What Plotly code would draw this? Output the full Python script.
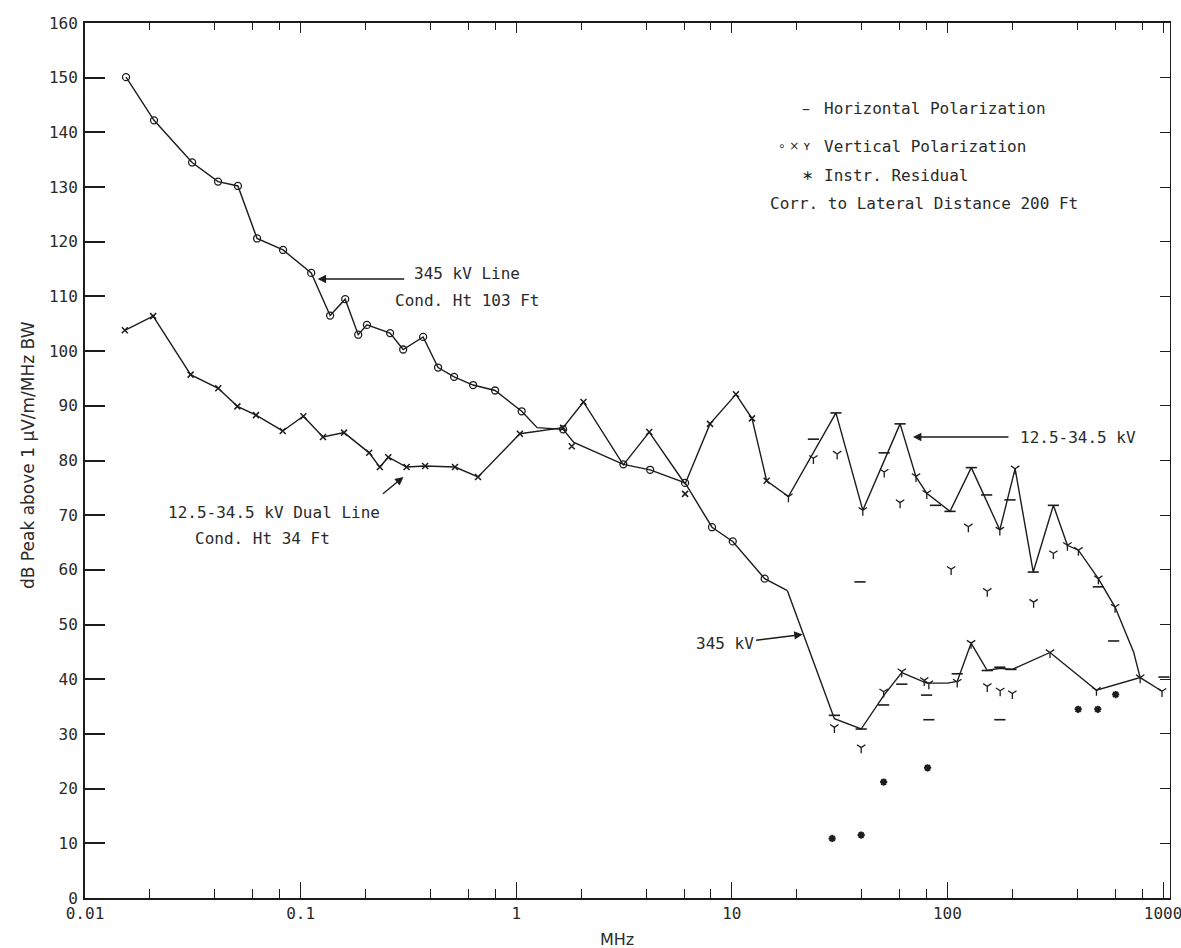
import math
import plotly.graph_objects as go

# ---------------- data ----------------
# 345 kV line, low frequency part (vertical polarization, circles)
kv345_f = [0.0155, 0.0209, 0.0314, 0.0414, 0.0512, 0.0628, 0.0829, 0.112, 0.137, 0.161,
           0.185, 0.203, 0.260, 0.299, 0.370, 0.434, 0.515, 0.631, 0.798, 1.06,
           1.25, 1.65, 1.85, 3.14, 4.18, 6.07, 8.09, 10.1, 14.2, 18.1]
kv345_v = [150.1, 142.2, 134.5, 131.0, 130.2, 120.6, 118.5, 114.3, 106.5, 109.5,
           103.0, 104.8, 103.3, 100.3, 102.6, 97.0, 95.3, 93.8, 92.8, 89.0,
           86.0, 85.7, 83.3, 79.3, 78.3, 75.9, 67.8, 65.2, 58.4, 56.2]
kv345_circ_f = [0.0155, 0.0209, 0.0314, 0.0414, 0.0512, 0.0628, 0.0829, 0.112, 0.137, 0.161,
                0.185, 0.203, 0.260, 0.299, 0.370, 0.434, 0.515, 0.631, 0.798, 1.06,
                1.65, 3.14, 4.18, 6.07, 8.09, 10.1, 14.2]
kv345_circ_v = [150.1, 142.2, 134.5, 131.0, 130.2, 120.6, 118.5, 114.3, 106.5, 109.5,
                103.0, 104.8, 103.3, 100.3, 102.6, 97.0, 95.3, 93.8, 92.8, 89.0,
                85.7, 79.3, 78.3, 75.9, 67.8, 65.2, 58.4]
# 345 kV line, high frequency part
kv345_hf_f = [18.1, 29.9, 39.8, 50.6, 61.4, 80.0, 100, 111, 128.7, 153, 175, 200, 299, 491, 783, 989]
kv345_hf_v = [56.2, 32.8, 30.9, 37.0, 41.2, 39.3, 39.3, 39.6, 46.6, 41.6, 42.0, 41.8, 44.9, 38.0, 40.3, 37.8]

# 12.5-34.5 kV dual line
kv12_f = [0.0153, 0.0207, 0.0309, 0.0415, 0.0509, 0.0621, 0.0826, 0.103, 0.127, 0.159,
          0.208, 0.233, 0.255, 0.31, 0.378, 0.52, 0.665, 1.04, 1.65, 2.05,
          3.14, 4.14, 6.07, 7.92, 10.45, 12.4, 14.5, 18.3, 30.4, 40.5,
          60.3, 71.5, 80.2, 102.8, 129, 175, 206, 250, 310, 360,
          405, 501, 599, 730, 783]
kv12_v = [103.8, 106.4, 95.7, 93.2, 89.9, 88.3, 85.4, 88.1, 84.3, 85.1,
          81.4, 78.8, 80.6, 78.8, 79.0, 78.8, 77.0, 84.9, 86.0, 90.7,
          79.2, 85.2, 75.7, 86.7, 92.1, 87.7, 76.3, 73.4, 88.7, 70.9,
          86.7, 77.0, 74.0, 70.7, 78.7, 67.3, 78.5, 59.6, 71.8, 64.5,
          63.6, 58.4, 53.2, 45.0, 40.3]
kv12_x_f = [0.0153, 0.0207, 0.0309, 0.0415, 0.0509, 0.0621, 0.0826, 0.103, 0.127, 0.159,
            0.208, 0.233, 0.255, 0.31, 0.378, 0.52, 0.665, 1.04, 1.65, 2.05,
            1.81, 4.14, 6.07, 7.92, 10.45, 12.4, 14.5]
kv12_x_v = [103.8, 106.4, 95.7, 93.2, 89.9, 88.3, 85.4, 88.1, 84.3, 85.1,
            81.4, 78.8, 80.6, 78.8, 79.0, 78.8, 77.0, 84.9, 86.0, 90.7,
            82.6, 85.2, 73.9, 86.7, 92.1, 87.7, 76.3]

# Horizontal polarization readings
hp_f = [23.9, 30.4, 29.9, 39.3, 39.8, 50.9, 50.6, 60.3, 61.4, 80, 82, 88, 102.8, 111,
        129, 152, 153, 175, 175, 195, 197, 250, 310, 501, 590, 1010]
hp_v = [83.9, 88.7, 33.4, 57.8, 30.9, 81.4, 35.3, 86.7, 39.1, 37.1, 32.6, 71.8, 70.7, 41.0,
        78.7, 73.7, 41.6, 42.2, 32.6, 72.8, 41.8, 59.6, 71.8, 56.9, 47.0, 40.4]

# Vertical polarization readings (high frequency)
vp_f = [18.3, 23.9, 30.8, 29.9, 39.8, 40.5, 50.9, 50.6, 60.3, 61.4, 71.5, 80.2, 78, 82,
        104, 111, 125, 128.7, 153, 153, 175, 175.6, 200, 206, 251, 299, 310, 360, 405,
        491, 501, 599, 783, 989]
vp_v = [73.4, 80.4, 81.2, 31.2, 27.5, 70.9, 77.9, 37.7, 72.3, 41.4, 77.1, 74.0, 39.8, 39.2,
        60.1, 39.5, 67.9, 46.6, 56.1, 38.7, 67.3, 37.9, 37.4, 78.5, 54.1, 44.9, 63.0, 64.5, 63.6,
        38.0, 58.4, 53.2, 40.3, 37.8]

# Instrument residual
res_f = [29.2, 39.8, 50.6, 80.9, 404, 498, 603]
res_v = [10.9, 11.5, 21.2, 23.8, 34.5, 34.5, 37.2]

x_tickvals = [0.01, 0.1, 1, 10, 100, 1000]
x_ticktext = ["0.01", "0.1", "1", "10", "100", "1000"]
y_tickvals = list(range(0, 161, 10))

# ---------------- figure ----------------
INK = "#1c1c1c"
TXT = "#2a2a2a"
MONO = "DejaVu Sans Mono"
SANS = "DejaVu Sans"
W, H = 1181, 948
L, R, T, B = 85, 11, 23, 50
PW, PH = W - L - R, H - T - B

def px(x):
    return (x - L) / PW

def py(y):
    return (H - B - y) / PH

minor_vals = [m * 10 ** e for e in range(-2, 4) for m in (2, 4, 6, 8) if m * 10 ** e < 1080]

fig = go.Figure()

line_style = dict(color=INK, width=1.4)

fig.add_trace(go.Scatter(x=kv345_f, y=kv345_v, mode="lines", line=line_style, showlegend=False))
fig.add_trace(go.Scatter(x=kv345_hf_f, y=kv345_hf_v, mode="lines", line=line_style, showlegend=False))
fig.add_trace(go.Scatter(x=kv12_f, y=kv12_v, mode="lines", line=line_style, showlegend=False))

fig.add_trace(go.Scatter(x=kv345_circ_f, y=kv345_circ_v, mode="markers",
                         marker=dict(symbol="circle-open", size=7, color=INK, line=dict(width=1.3)),
                         showlegend=False))
fig.add_trace(go.Scatter(x=kv12_x_f, y=kv12_x_v, mode="markers",
                         marker=dict(symbol="x-thin", size=6, color=INK, line=dict(width=1.5, color=INK)),
                         showlegend=False))
fig.add_trace(go.Scatter(x=hp_f, y=hp_v, mode="markers",
                         marker=dict(symbol="line-ew", size=8, color=INK, line=dict(width=1.6, color=INK)),
                         showlegend=False))
fig.add_trace(go.Scatter(x=vp_f, y=vp_v, mode="markers",
                         marker=dict(symbol="y-down", size=7, color=INK, line=dict(width=1.3, color=INK)),
                         showlegend=False))
fig.add_trace(go.Scatter(x=res_f, y=res_v, mode="markers",
                         marker=dict(symbol="asterisk", size=6, color=INK, line=dict(width=2, color=INK)),
                         showlegend=False))
# empty trace to activate the mirrored top/right axes
fig.add_trace(go.Scatter(x=[], y=[], xaxis="x2", yaxis="y2", showlegend=False))

xr = [-2, math.log10(1077)]
common_x = dict(type="log", range=xr, showgrid=False, zeroline=False, automargin=False)

fig.update_layout(
    width=W, height=H, autosize=False,
    margin=dict(l=L, r=R, t=T, b=B, autoexpand=False),
    paper_bgcolor="white", plot_bgcolor="white",
    font=dict(family=MONO, color=TXT, size=16),
    xaxis=dict(**common_x, showline=True, linecolor=INK, linewidth=2,
               ticks="inside", ticklen=16, tickwidth=1.3, tickcolor=INK,
               tickvals=x_tickvals, ticktext=x_ticktext, ticklabeloverflow="allow",
               tickfont=dict(size=16, family=MONO, color=TXT),
               minor=dict(ticks="inside", ticklen=9, tickwidth=1, tickcolor=INK, tickvals=minor_vals)),
    xaxis2=dict(**common_x, overlaying="x", side="top", anchor="y",
                showline=True, linecolor=INK, linewidth=2,
                ticks="inside", ticklen=10, tickwidth=1, tickcolor=INK,
                tickvals=x_tickvals, showticklabels=False,
                minor=dict(ticks="inside", ticklen=7, tickwidth=1, tickcolor=INK, tickvals=minor_vals)),
    yaxis=dict(range=[0, 160], showgrid=False, zeroline=False, showline=True, linecolor=INK, linewidth=2,
               ticks="inside", ticklen=20, tickwidth=1.5, tickcolor=INK, tickvals=y_tickvals,
               ticklabelstandoff=2, automargin=False,
               tickfont=dict(size=16, family=MONO, color=TXT)),
    yaxis2=dict(range=[0, 160], overlaying="y", side="right", anchor="x", automargin=False,
                showgrid=False, zeroline=False, showline=True, linecolor=INK, linewidth=1,
                ticks="inside", ticklen=10, tickwidth=1.3, tickcolor=INK, tickvals=y_tickvals,
                showticklabels=False),
)

ann = []

def text(x, y, s, anchor="left", size=16, family=MONO):
    ann.append(dict(x=px(x), y=py(y), xref="paper", yref="paper", text=s, showarrow=False,
                    xanchor=anchor, yanchor="middle", font=dict(family=family, size=size, color=TXT)))

def arrow(f, v, ax, ay):
    ann.append(dict(x=math.log10(f), y=v, xref="x", yref="y", text="", showarrow=True,
                    ax=ax, ay=ay, arrowhead=2, arrowsize=1.2, arrowwidth=1.4, arrowcolor=INK))

# axis titles
ann.append(dict(x=px(28), y=py(455), xref="paper", yref="paper", text="dB Peak above 1 µV/m/MHz BW",
                textangle=-90, showarrow=False, xanchor="center", yanchor="middle",
                font=dict(family=SANS, size=17, color=TXT)))
text(617, 939, "MHz", anchor="center", size=16, family=SANS)

# legend block
text(800, 108, "–", anchor="left", size=16, family=SANS)
text(822, 108, "Horizontal Polarization")
text(776, 146, "∘ × ʏ", anchor="left", size=12, family=SANS)
text(822, 146, "Vertical Polarization")
text(800, 175, "∗", anchor="left", size=14, family=SANS)
text(822, 175, "Instr. Residual")
text(768, 203, "Corr. to Lateral Distance 200 Ft")

# curve labels
text(467, 273, "345 kV Line", anchor="center")
text(467, 300, "Cond. Ht 103 Ft", anchor="center")
arrow(0.120, 113.2, 88, 0)

text(274, 512, "12.5-34.5 kV Dual Line", anchor="center")
text(262, 538, "Cond. Ht 34 Ft", anchor="center")
arrow(0.30, 77.0, -22, 18)

text(1018, 437, "12.5-34.5 kV")
arrow(69.2, 84.3, 97, 0)

text(756, 643, "345 kV", anchor="right")
arrow(21.3, 48.2, -48, 6)

fig.update_layout(annotations=ann)

fig.write_html("out.html")
